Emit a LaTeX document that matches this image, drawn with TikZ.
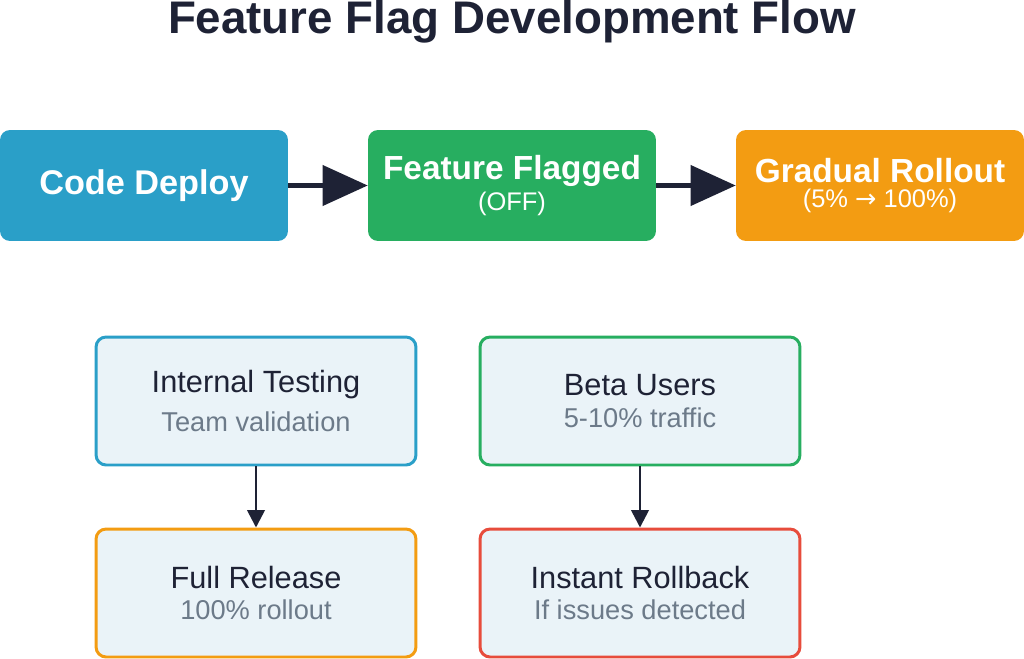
\documentclass[tikz,border=0pt]{standalone}
\usepackage{fontspec}
\setmainfont{Liberation Sans}
\newfontfamily\symf{DejaVu Sans}
\usetikzlibrary{arrows.meta}
\definecolor{navy}{HTML}{1E2235}
\definecolor{cblue}{HTML}{2A9FC8}
\definecolor{cgreen}{HTML}{27AE60}
\definecolor{corange}{HTML}{F39C12}
\definecolor{cred}{HTML}{E74C3C}
\definecolor{lightbg}{HTML}{EAF3F8}
\definecolor{subgrey}{HTML}{6C7A89}
\begin{document}
\begin{tikzpicture}[x=0.02cm,y=-0.02cm,
 top/.style={draw=none,rounded corners=0.2cm,minimum width=5.76cm,minimum height=2.22cm,text=white,align=center,inner sep=0pt},
 low/.style={fill=lightbg,line width=1.7pt,rounded corners=0.2cm,minimum width=6.4cm,minimum height=2.56cm,align=center,inner sep=0pt,text=navy},
 harr/.style={navy,line width=2.3pt,-{Triangle[length=0.9cm,width=0.8cm]}},
 varr/.style={navy,line width=1.5pt,-{Triangle[length=0.35cm,width=0.35cm]}},
 sub/.style={text=subgrey,font=\fontsize{15.5}{18}\selectfont}]
\useasboundingbox (0,0) rectangle (1024,659);
\node[text=navy,font=\fontsize{26}{30}\selectfont\bfseries] (title) at (512,22) {Feature Flag Development Flow};
\node[top,fill=cblue,font=\fontsize{19.5}{23}\selectfont\bfseries] (cd) at (144,185.5) {Code Deploy};
\node[top,fill=cgreen] (ff) at (512,185.5) {{\fontsize{19}{23}\selectfont\bfseries Feature Flagged}\\[2pt]{\fontsize{14.5}{17}\selectfont (OFF)}};
\node[top,fill=corange] (gr) at (880,185.5) {{\fontsize{19}{23}\selectfont\bfseries Gradual Rollout}\\[2pt]{\fontsize{14.5}{17}\selectfont (5\% {\symf→} 100\%)}};
\draw[harr] (cd.east) -- (ff.west);
\draw[harr] (ff.east) -- (gr.west);
\node[low,draw=cblue] (it) at (256,401) {{\fontsize{17.5}{20}\selectfont Internal Testing}\\[6pt]{\fontsize{15.5}{18}\selectfont\color{subgrey}Team validation}};
\node[low,draw=cgreen] (bu) at (640,401) {{\fontsize{17.5}{20}\selectfont Beta Users}\\[6pt]{\fontsize{15.5}{18}\selectfont\color{subgrey}5-10\% traffic}};
\node[low,draw=corange] (fr) at (256,593) {{\fontsize{17.5}{20}\selectfont Full Release}\\[6pt]{\fontsize{15.5}{18}\selectfont\color{subgrey}100\% rollout}};
\node[low,draw=cred] (ir) at (640,593) {{\fontsize{17.5}{20}\selectfont Instant Rollback}\\[6pt]{\fontsize{15.5}{18}\selectfont\color{subgrey}If issues detected}};
\draw[varr] (it.south) -- (fr.north);
\draw[varr] (bu.south) -- (ir.north);
\end{tikzpicture}
\end{document}
